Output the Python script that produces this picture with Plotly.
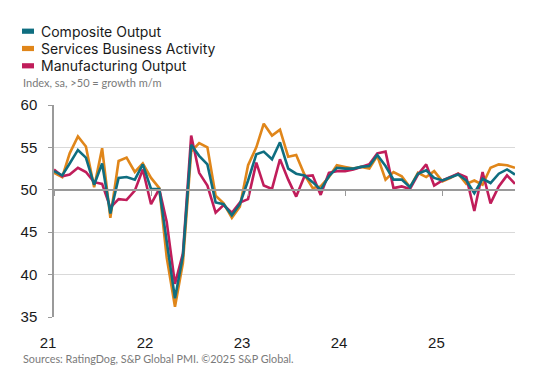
import pandas as pd
import plotly.graph_objects as go

months = pd.date_range("2021-01-01", periods=58, freq="MS")

composite = [52.2, 51.7, 53.1, 54.7, 53.8, 50.6, 53.1, 47.2, 51.4, 51.5, 51.2, 53.0,
             50.1, 50.1, 43.9, 37.2, 42.2, 55.3, 54.0, 53.0, 48.5, 48.3, 47.0, 48.3,
             51.1, 54.2, 54.5, 53.6, 55.6, 52.5, 51.9, 51.7, 50.9, 50.0, 51.6, 52.6,
             52.5, 52.5, 52.7, 52.8, 54.1, 52.8, 51.2, 51.2, 50.3, 51.9, 52.3, 51.4,
             51.1, 51.5, 51.8, 51.1, 49.6, 51.3, 50.8, 51.9, 52.4, 51.8]
services = [52.0, 51.5, 54.3, 56.3, 55.1, 50.3, 54.9, 46.7, 53.4, 53.8, 52.1, 53.1,
            51.4, 50.2, 42.0, 36.2, 41.4, 54.5, 55.5, 55.0, 49.3, 48.4, 46.7, 48.0,
            52.9, 55.0, 57.8, 56.4, 57.1, 53.9, 54.1, 51.8, 50.2, 50.4, 51.5, 52.9,
            52.7, 52.5, 52.7, 52.5, 54.0, 51.2, 52.1, 51.6, 50.3, 52.0, 51.5, 52.2,
            51.0, 51.4, 51.9, 50.7, 51.1, 50.6, 52.6, 53.0, 52.9, 52.6]
manufacturing = [52.4, 51.6, 51.8, 52.6, 52.1, 50.9, 50.7, 47.9, 48.9, 48.8, 49.9, 52.4,
                 48.3, 50.1, 46.2, 38.9, 42.5, 56.4, 52.0, 50.5, 47.3, 48.2, 47.3, 48.5,
                 48.9, 53.2, 50.5, 50.1, 53.6, 51.2, 49.2, 51.6, 51.7, 49.4, 52.0, 52.2,
                 52.2, 52.4, 52.7, 53.0, 54.3, 54.5, 50.2, 50.4, 50.1, 51.8, 53.0, 50.5,
                 51.1, 51.5, 51.9, 51.5, 47.5, 52.1, 48.4, 50.4, 51.7, 50.7]

series_names = ["Composite Output", "Services Business Activity", "Manufacturing Output"]
series_colors = ["#0f6e80", "#e0861a", "#c01d5a"]

year_ticks = pd.date_range("2021-01-01", periods=5, freq="12MS")
year_labels = ["21", "22", "23", "24", "25"]
y_ticks = [35, 40, 45, 50, 55, 60]

fig = go.Figure()
data = {series_names[0]: composite, series_names[1]: services, series_names[2]: manufacturing}
for name in [series_names[1], series_names[2], series_names[0]]:
    i = series_names.index(name)
    fig.add_trace(go.Scatter(x=months, y=data[name], mode="lines", name=name,
                             line=dict(color=series_colors[i], width=2.6),
                             showlegend=False))

# invisible helper trace so the 50-baseline axis (with January ticks) is drawn
fig.add_trace(go.Scatter(x=[months[0], months[-1]], y=[50, 50], xaxis="x2", mode="lines",
                         line=dict(color="rgba(0,0,0,0)", width=0), showlegend=False,
                         hoverinfo="skip"))

font_txt = "Inter, 'Open Sans', sans-serif"
font_small = "Lato, 'Open Sans', sans-serif"

H, W = 372, 537
top, bottom = 105, 55
L, R = 54, 22
plot_h = H - top - bottom
plot_w = W - L - R
def ypaper(py):
    return (H - bottom - py) / plot_h
def xpaper(px):
    return (px - L) / plot_w

annotations = []
shapes = []
leg_y = [31.2, 48.5, 65.8]
for i, name in enumerate(series_names):
    yc = leg_y[i]
    shapes.append(dict(type="rect", xref="paper", yref="paper",
                       x0=xpaper(22), x1=xpaper(34), y0=ypaper(yc + 2.6), y1=ypaper(yc - 2.6),
                       fillcolor=series_colors[i], line=dict(width=0)))
    annotations.append(dict(text=name, xref="paper", yref="paper", x=xpaper(38.5), y=ypaper(yc),
                            xanchor="left", yanchor="middle", showarrow=False,
                            font=dict(family=font_txt, size=14, color="#1a1a1a")))

annotations.append(dict(text="Index, sa, >50 = growth m/m", xref="paper", yref="paper",
                        x=xpaper(21), y=ypaper(83), xanchor="left", yanchor="middle",
                        showarrow=False, font=dict(family=font_small, size=11, color="#7a7a7a")))
annotations.append(dict(text="Sources: RatingDog, S&P Global PMI. ©2025 S&P Global.",
                        xref="paper", yref="paper", x=xpaper(21), y=ypaper(358),
                        xanchor="left", yanchor="middle", showarrow=False,
                        font=dict(family=font_small, size=10.8, color="#7a7a7a")))

fig.update_layout(
    width=W, height=H,
    margin=dict(l=L, r=R, t=top, b=bottom, pad=0),
    plot_bgcolor="white", paper_bgcolor="white",
    showlegend=False,
    xaxis=dict(range=[months[0], months[-1]], tickvals=year_ticks, ticktext=year_labels,
               showgrid=False, showline=False, zeroline=False,
               ticks="outside", ticklen=12, tickcolor="rgba(0,0,0,0)",
               tickfont=dict(family="Liberation Sans, Arial, sans-serif", size=15, color="#1a1a1a"),
               ticklabelshift=-6),
    xaxis2=dict(range=[months[0], months[-1]], overlaying="x", anchor="free", position=0.6,
                side="bottom", showline=True, linecolor="#9a9a9a", linewidth=1.5,
                ticks="outside", tickcolor="#9a9a9a", tickwidth=1.2, ticklen=5,
                tickvals=year_ticks, showticklabels=False, showgrid=False, zeroline=False),
    yaxis=dict(range=[35, 60], tickvals=y_ticks, showgrid=True, gridcolor="#d9d9d9",
               gridwidth=1, zeroline=False, showline=True, linecolor="#9a9a9a", linewidth=1.5,
               ticks="outside", tickcolor="#9a9a9a", ticklen=4, ticklabelstandoff=8,
               tickfont=dict(family="Liberation Sans, Arial, sans-serif", size=15, color="#1a1a1a")),
    shapes=shapes, annotations=annotations,
)

fig.write_html("out.html", config={"displayModeBar": False},
               post_script="document.body.style.margin='0';")
